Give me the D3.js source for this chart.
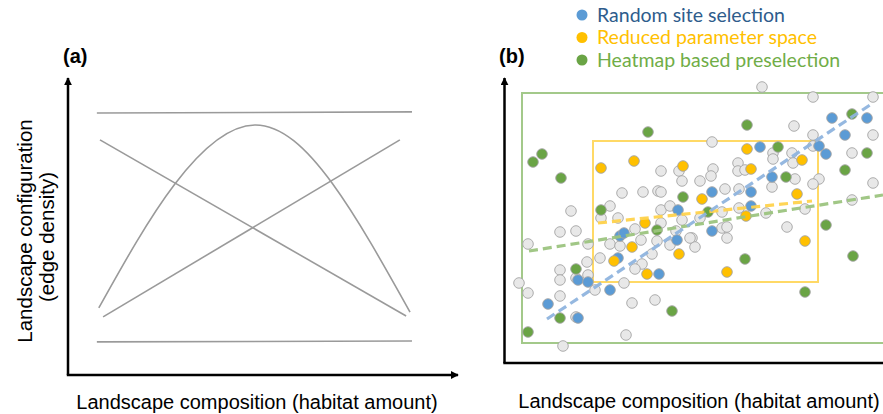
<!DOCTYPE html>
<html>
<head>
<meta charset="utf-8">
<script src="https://cdn.jsdelivr.net/npm/d3@7"></script>
<style>
  body { margin: 0; background: #fff; }
  svg { display: block; }
</style>
</head>
<body>
<div id="chart"></div>
<script>
// panel (a) - conceptual lines, unitless 0..10 space
const highX = [0.74, 8.82], highY = [8.79, 8.83];
const lowX = [0.74, 8.82], lowY = [1.11, 1.14];
const fallX = [0.82, 8.67], fallY = [7.89, 1.98];
const riseX = [0.90, 8.51], riseY = [1.95, 7.89];
const humpX = [0.79, 2.74, 4.79, 6.77, 8.77];
const humpY = [2.25, 6.41, 8.39, 6.44, 2.11];

// panel (b) - sites
const greyX = [24.0, 29.1, 35.1, 27.2, 29.1, 35.1, 19.0, 29.1, 33.0, 25.1, 25.1, 27.0, 27.1, 21.6, 19.1, 18.9, 21.6, 22.3, 17.8, 27.3, 29.7, 29.1, 35.1, 25.0, 20.3, 21.7, 21.7, 20.0, 24.4, 28.3, 33.0, 26.5, 20.0, 20.5, 20.5, 17.0, 17.3, 17.8, 13.9, 15.7, 16.0, 10.0, 12.1, 13.6, 13.9, 4.9, 8.8, 13.9, 14.8, 7.9, 9.6, 13.9, 16.0, 3.8, 5.4, 0.6, 6.6, 8.8, 9.8, 11.3, 11.9, 13.5, 14.8, 16.8, 15.4, 13.0, 7.8, 6.5, 12.0, 11.3, 3.8, 3.8, 5.4, 6.6, 10.2, 7.3, -0.3, 0.6, 3.8, 11.0, 13.3, 5.4, 10.4, 4.1];
const greyY = [25.6, 24.6, 24.6, 21.7, 20.8, 20.8, 20.1, 19.7, 19.0, 19.0, 18.4, 19.0, 18.0, 18.0, 17.4, 16.7, 17.2, 17.3, 16.2, 16.4, 16.4, 15.9, 16.0, 15.6, 15.4, 15.4, 13.5, 13.1, 13.0, 13.4, 14.3, 11.6, 11.5, 11.6, 10.5, 10.5, 9.6, 12.5, 17.2, 17.2, 16.2, 15.0, 15.1, 15.2, 15.1, 13.2, 13.7, 13.3, 13.7, 12.5, 12.5, 12.0, 12.3, 11.1, 11.2, 9.9, 9.9, 9.9, 9.7, 11.4, 10.3, 10.2, 9.8, 10.5, 11.2, 8.9, 8.5, 8.1, 7.9, 7.4, 7.3, 6.3, 6.5, 6.8, 6.0, 5.3, 6.0, 5.0, 4.7, 4.0, 4.3, 2.6, 0.8, -0.3];

const randomX = [31.0, 34.5, 32.3, 23.8, 29.7, 30.4, 25.0, 19.0, 22.9, 22.9, 19.0, 15.6, 9.8, 10.2, 15.5, 9.6, 13.7, 5.6, 6.6, 8.8, 2.6, 5.6];
const randomY = [22.5, 22.5, 20.8, 19.6, 19.7, 18.9, 16.6, 15.1, 15.1, 13.7, 11.2, 13.3, 10.7, 11.0, 10.3, 8.5, 6.9, 6.3, 6.1, 5.3, 3.9, 2.5];

const reducedX = [7.9, 11.2, 16.1, 18.0, 22.5, 28.0, 22.9, 27.5, 22.4, 28.3, 20.5, 12.3, 11.0, 15.7, 9.2, 12.5];
const reducedY = [17.5, 18.2, 17.7, 14.4, 19.4, 18.3, 17.4, 14.9, 12.7, 10.2, 7.1, 12.0, 9.6, 8.9, 8.2, 6.9];

const heatX = [12.6, 1.1, 2.0, 3.9, 16.1, 7.9, 33.0, 22.5, 25.6, 34.5, 32.3, 26.4, 18.6, 30.4, 33.1, 22.3, 28.3, 13.5, 5.4, 15.0, 3.8, 0.6];
const heatY = [21.1, 18.1, 18.9, 16.5, 14.6, 13.3, 22.9, 21.8, 19.6, 19.0, 17.3, 16.6, 13.1, 11.8, 8.7, 8.4, 5.1, 11.3, 7.4, 3.2, 2.5, 1.1];

// extents of sampled space and fitted trends
const heatBoxX = [0, 36.3], heatBoxY = [0, 25];
const reducedBoxX = [7.1, 29.6], reducedBoxY = [6.1, 20.2];
const randomTrendX = [2.5, 34.8], randomTrendY = [2.4, 23.8];
const heatTrendX = [0.7, 36.1], heatTrendY = [9.2, 14.8];
const reducedTrendX = [7.6, 29.0], reducedTrendY = [12.0, 14.2];

const legendLabels = ["Random site selection", "Reduced parameter space", "Heatmap based preselection"];

const W = 883, H = 414;
const svg = d3.select("#chart").append("svg")
  .attr("width", W).attr("height", H);

const defs = svg.append("defs");
defs.append("marker")
  .attr("id", "arrow")
  .attr("viewBox", "0 0 10 10")
  .attr("refX", 9).attr("refY", 5)
  .attr("markerWidth", 3.2).attr("markerHeight", 3.2)
  .attr("orient", "auto")
  .append("path")
  .attr("d", "M0,0 L10,5 L0,10 z")
  .attr("fill", "#000");

const lineGrey = "#9a9a9a";
const font = "'Liberation Sans', Arial, sans-serif";

// ---------- panel (a)
const xA = d3.scaleLinear().domain([0, 10]).range([68, 458]);
const yA = d3.scaleLinear().domain([0, 10]).range([375, 77]);
const gA = svg.append("g");

gA.append("line")
  .attr("x1", xA(0)).attr("y1", yA(0))
  .attr("x2", xA(0)).attr("y2", yA(10) + 1)
  .attr("stroke", "#000").attr("stroke-width", 2.5)
  .attr("marker-end", "url(#arrow)");
gA.append("line")
  .attr("x1", xA(0) - 1.2).attr("y1", yA(0))
  .attr("x2", xA(10)).attr("y2", yA(0))
  .attr("stroke", "#000").attr("stroke-width", 2.5)
  .attr("marker-end", "url(#arrow)");

const lineA = d3.line().x(d => xA(d[0])).y(d => yA(d[1]));
[[highX, highY], [lowX, lowY], [fallX, fallY], [riseX, riseY]].forEach(([xs, ys]) => {
  gA.append("path")
    .attr("d", lineA(d3.zip(xs, ys)))
    .attr("fill", "none").attr("stroke", lineGrey).attr("stroke-width", 1.6);
});
gA.append("path")
  .attr("d", lineA.curve(d3.curveNatural)(d3.zip(humpX, humpY)))
  .attr("fill", "none").attr("stroke", lineGrey).attr("stroke-width", 1.6);

gA.append("text")
  .attr("x", 63).attr("y", 63)
  .attr("font-family", font).attr("font-weight", "bold").attr("font-size", 20)
  .text("(a)");
gA.append("text")
  .attr("x", 257).attr("y", 409)
  .attr("text-anchor", "middle")
  .attr("font-family", font).attr("font-size", 20)
  .text("Landscape composition (habitat amount)");
gA.append("text")
  .attr("transform", "translate(32,231) rotate(-90)")
  .attr("text-anchor", "middle")
  .attr("font-family", font).attr("font-size", 20.5)
  .text("Landscape configuration");
gA.append("text")
  .attr("transform", "translate(54,237) rotate(-90)")
  .attr("text-anchor", "middle")
  .attr("font-family", font).attr("font-size", 20.5)
  .text("(edge density)");

// ---------- panel (b)
const xB = d3.scaleLinear().domain([0, 36]).range([522, 882]);
const yB = d3.scaleLinear().domain([0, 25]).range([343, 93]);
const gB = svg.append("g");

gB.append("line")
  .attr("x1", xB(-1.75)).attr("y1", yB(-2))
  .attr("x2", xB(-1.75)).attr("y2", yB(26.5))
  .attr("stroke", "#000").attr("stroke-width", 2.5)
  .attr("marker-end", "url(#arrow)");
gB.append("line")
  .attr("x1", xB(-1.75) - 1.2).attr("y1", yB(-2))
  .attr("x2", xB(37)).attr("y2", yB(-2))
  .attr("stroke", "#000").attr("stroke-width", 2.5);

// sampled areas
gB.append("rect")
  .attr("x", xB(heatBoxX[0])).attr("y", yB(heatBoxY[1]))
  .attr("width", xB(heatBoxX[1]) - xB(heatBoxX[0]))
  .attr("height", yB(heatBoxY[0]) - yB(heatBoxY[1]))
  .attr("fill", "none").attr("stroke", "#a3c98a").attr("stroke-width", 2);
gB.append("rect")
  .attr("x", xB(reducedBoxX[0])).attr("y", yB(reducedBoxY[1]))
  .attr("width", xB(reducedBoxX[1]) - xB(reducedBoxX[0]))
  .attr("height", yB(reducedBoxY[0]) - yB(reducedBoxY[1]))
  .attr("fill", "none").attr("stroke", "#ffd966").attr("stroke-width", 2);

function dots(xs, ys, fill) {
  gB.append("g").selectAll("circle")
    .data(d3.zip(xs, ys))
    .join("circle")
    .attr("cx", d => xB(d[0]))
    .attr("cy", d => yB(d[1]))
    .attr("r", 5.3)
    .attr("fill", fill)
    .attr("stroke", "#a5a5a5")
    .attr("stroke-width", 0.9);
}
dots(greyX, greyY, "#e8e8e8");
dots(randomX, randomY, "#5b9bd5");
dots(reducedX, reducedY, "#ffc000");
dots(heatX, heatY, "#6aa445");

const lineB = d3.line().x(d => xB(d[0])).y(d => yB(d[1]));
[[reducedTrendX, reducedTrendY, "#ffd34d"],
 [heatTrendX, heatTrendY, "#9cc47f"],
 [randomTrendX, randomTrendY, "#8fb4de"]].forEach(([xs, ys, c]) => {
  gB.append("path")
    .attr("d", lineB(d3.zip(xs, ys)))
    .attr("fill", "none").attr("stroke", c)
    .attr("stroke-width", 3.2).attr("stroke-dasharray", "9,5")
    .attr("opacity", 0.95);
});

gB.append("text")
  .attr("x", 499).attr("y", 63)
  .attr("font-family", font).attr("font-weight", "bold").attr("font-size", 20)
  .text("(b)");
gB.append("text")
  .attr("x", 699).attr("y", 408)
  .attr("text-anchor", "middle")
  .attr("font-family", font).attr("font-size", 20)
  .text("Landscape composition (habitat amount)");

// legend
const legendDot = ["#5b9bd5", "#ffc000", "#6aa445"];
const legendText = ["#2e5c8c", "#ffc000", "#70ad47"];
const leg = gB.append("g").attr("transform", "translate(582,15)");
legendLabels.forEach((t, i) => {
  leg.append("circle")
    .attr("cx", 0).attr("cy", i * 22.5)
    .attr("r", 5.5).attr("fill", legendDot[i]);
  leg.append("text")
    .attr("x", 15).attr("y", i * 22.5 + 6.8)
    .attr("font-family", "Lato, 'Open Sans', sans-serif")
    .attr("font-size", 19.5)
    .attr("fill", legendText[i])
    .text(t);
});
</script>
</body>
</html>
